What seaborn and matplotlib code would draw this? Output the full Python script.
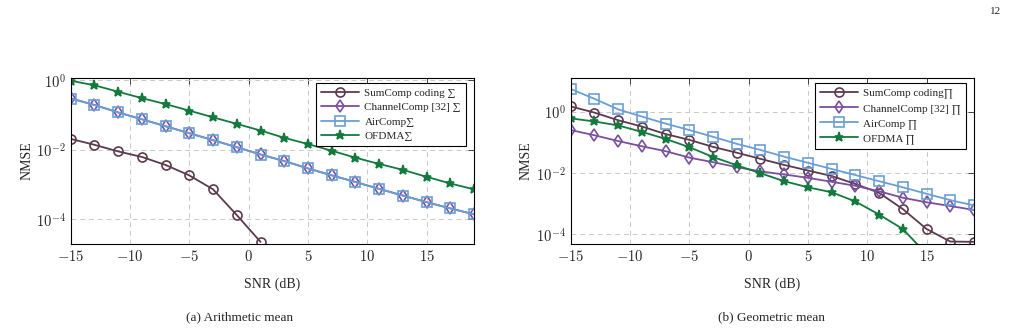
"""
NMSE vs SNR, arithmetic and geometric mean
"""

import numpy as np
import pandas as pd
import matplotlib
matplotlib.use('Agg')
import matplotlib.pyplot as plt
from matplotlib.ticker import FuncFormatter, FixedLocator
import seaborn as sns

sns.set_style('white')
plt.rcParams['font.family'] = ['Liberation Serif', 'DejaVu Serif']
plt.rcParams['mathtext.fontset'] = 'cm'

snr = [-15, -13, -11, -9, -7, -5, -3, -1, 1, 3, 5, 7, 9, 11, 13, 15, 17, 19]

# (a) arithmetic mean
arith_sumcomp = [0.0204, 0.0138, 0.00891, 0.00617, 0.00363, 0.00182, 0.000724,
                 0.000132, 0.0000224]
arith_channelcomp = [0.298, 0.193, 0.118, 0.0750, 0.0472, 0.0298, 0.0188, 0.0118,
                     0.00730, 0.00472, 0.00290, 0.00184, 0.00118, 0.000748,
                     0.000482, 0.000311, 0.000206, 0.000139]
arith_aircomp = [0.295, 0.191, 0.117, 0.0741, 0.0468, 0.0295, 0.0186, 0.0117,
                 0.00724, 0.00468, 0.00288, 0.00182, 0.00117, 0.000741,
                 0.000479, 0.000309, 0.000204, 0.000138]
arith_ofdma = [0.955, 0.708, 0.462, 0.302, 0.204, 0.132, 0.0851, 0.0550, 0.0355,
               0.0219, 0.0145, 0.00933, 0.00589, 0.00389, 0.00263, 0.00166,
               0.00107, 0.000724]

# (b) geometric mean
geo_sumcomp = [1.48, 0.933, 0.525, 0.327, 0.186, 0.120, 0.0708, 0.0457, 0.0288,
               0.0182, 0.0120, 0.00794, 0.00437, 0.00224, 0.000661, 0.000148,
               0.0000575, 0.0000562]
geo_channelcomp = [0.251, 0.170, 0.110, 0.0741, 0.0513, 0.0316, 0.0224, 0.0155,
                   0.0112, 0.00891, 0.00692, 0.00513, 0.00380, 0.00251, 0.00155,
                   0.00110, 0.000832, 0.000617]
geo_aircomp = [5.50, 2.63, 1.19, 0.692, 0.407, 0.251, 0.151, 0.0891, 0.0562,
               0.0339, 0.0214, 0.0135, 0.00851, 0.00537, 0.00339, 0.00209,
               0.00129, 0.000871]
geo_ofdma = [0.603, 0.479, 0.355, 0.219, 0.129, 0.0692, 0.0331, 0.0178, 0.00977,
             0.00537, 0.00339, 0.00234, 0.00117, 0.000437, 0.000148, 0.0000224,
             0.0000025, 0.00000032]

c_sum = '#5b3a4e'
c_chan = '#7a4f9e'
c_air = '#6a9fd6'
c_ofdma = '#137a3e'


def draw_series(ax, y, label, color, marker, ms, filled=False):
    df = pd.DataFrame({'snr': snr[:len(y)], 'nmse': y})
    sns.lineplot(data=df, x='snr', y='nmse', ax=ax, label=label, color=color,
                 marker=marker, markersize=ms, linewidth=1.3,
                 markeredgewidth=1.2, markeredgecolor=color,
                 markerfacecolor=color if filled else 'none')


def style_axis(ax, ylim):
    ax.set_yscale('log')
    ax.set_xlim(-15, 19)
    ax.set_ylim(*ylim)
    ax.xaxis.set_major_locator(FixedLocator([-15, -10, -5, 0, 5, 10, 15]))
    ax.yaxis.set_major_locator(FixedLocator([1e-4, 1e-2, 1e0]))
    ax.yaxis.set_minor_locator(FixedLocator([]))
    ax.xaxis.set_major_formatter(FuncFormatter(lambda v, p: r'$%d$' % v))
    ax.yaxis.set_major_formatter(
        FuncFormatter(lambda v, p: r'$10^{%d}$' % round(np.log10(v))))
    ax.tick_params(direction='in', top=True, right=True, length=4,
                   labelsize=10.5, width=0.6)
    ax.grid(True, which='major', linestyle=(0, (5, 4)), color='#c8c8c8',
            linewidth=0.7)
    for s in ax.spines.values():
        s.set_color('black')
        s.set_linewidth(0.8)
    ax.set_xlabel('SNR (dB)', fontsize=10, labelpad=10)
    ax.set_ylabel('NMSE', fontsize=10, labelpad=2)
    leg = ax.legend(loc='upper right', bbox_to_anchor=(0.980, 0.970),
                    fontsize=8, frameon=True, fancybox=False,
                    edgecolor='black', framealpha=1, handlelength=3.4,
                    borderpad=0.45, labelspacing=0.42, handletextpad=0.5,
                    borderaxespad=0)
    leg.get_frame().set_linewidth(0.8)


fig = plt.figure(figsize=(10.09, 3.29), dpi=100)
ax1 = fig.add_axes([0.0701, 0.2584, 0.3997, 0.5046])
ax2 = fig.add_axes([0.5656, 0.2584, 0.3997, 0.5046])

draw_series(ax1, arith_sumcomp, 'SumComp coding \u2211', c_sum, 'o', 6.5)
draw_series(ax1, arith_channelcomp, 'ChannelComp [32] \u2211', c_chan, 'd', 6.5)
draw_series(ax1, arith_aircomp, 'AirComp\u2211', c_air, 's', 6.5)
draw_series(ax1, arith_ofdma, 'OFDMA\u2211', c_ofdma, '*', 6.5, filled=True)
style_axis(ax1, (10 ** -4.71, 10 ** 0.06))

draw_series(ax2, geo_sumcomp, 'SumComp coding\u220f', c_sum, 'o', 6.5)
draw_series(ax2, geo_channelcomp, 'ChannelComp [32] \u220f', c_chan, 'd', 6.5)
draw_series(ax2, geo_aircomp, 'AirComp \u220f', c_air, 's', 6.5)
draw_series(ax2, geo_ofdma, 'OFDMA \u220f', c_ofdma, '*', 6.5, filled=True)
style_axis(ax2, (10 ** -4.32, 10 ** 1.1))

fig.text(240 / 1009, 1 - 317 / 329, '(a) Arithmetic mean', ha='center',
         va='center', fontsize=9.5)
fig.text(772 / 1009, 1 - 317 / 329, '(b) Geometric mean', ha='center',
         va='center', fontsize=9.5)
fig.text(1001 / 1009, 1 - 12 / 329, '12', ha='right', va='center', fontsize=8)

fig.savefig('out.png', dpi=100)
